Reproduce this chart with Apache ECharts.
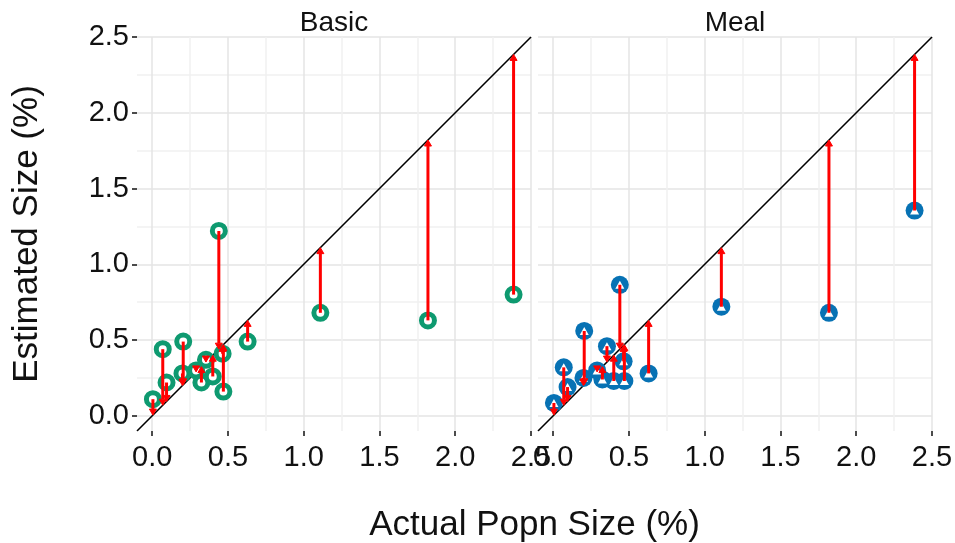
<!DOCTYPE html>
<html>
<head>
<meta charset="utf-8">
<script src="https://cdn.jsdelivr.net/npm/echarts@6/dist/echarts.min.js"></script>
<style>
  html, body { margin: 0; padding: 0; background: #ffffff; }
  #chart { width: 955px; height: 543px; }
</style>
</head>
<body>
<div id="chart"></div>
<script>
// Actual population size (%) of each group, shared by both panels
const actualSize = [0.005, 0.07, 0.095, 0.20, 0.205, 0.29, 0.325, 0.355, 0.40, 0.44, 0.465, 0.47, 0.63, 1.11, 1.82, 2.385];
// Estimated size (%) from the Basic method
const basicEstimate = [0.11, 0.44, 0.22, 0.28, 0.49, 0.30, 0.22, 0.37, 0.26, 1.22, 0.41, 0.16, 0.49, 0.68, 0.63, 0.80];
// Estimated size (%) from the Meal method
const mealEstimate = [0.085, 0.32, 0.19, 0.25, 0.56, 0.30, 0.24, 0.46, 0.23, 0.865, 0.36, 0.23, 0.28, 0.72, 0.68, 1.355];

const panelNames = ['Basic', 'Meal'];
const tickValues = [0, 0.5, 1.0, 1.5, 2.0, 2.5];
const axisMin = -0.1;
const axisMax = 2.5;
const gridStep = 0.05;
const identityLine = [[axisMin, axisMin], [axisMax, axisMax]];

const FONT = '"Liberation Sans", Arial, Helvetica, sans-serif';
const TEXT = '#111111';
const GREEN = '#0e9a70';
const BLUE = '#0772b4';
const RED = '#ff0000';
const MAJOR = '#e4e4e4';
const MINOR = '#f1f1f1';

// split lines every gridStep; colour only the 0.5 (major) and 0.25 (minor) positions
const gridColors = [];
for (let i = 0; i < 10; i++) {
  const v = Math.round((axisMin + i * gridStep) * 1000);
  gridColors.push(v % 500 === 0 ? MAJOR : (v % 250 === 0 ? MINOR : 'rgba(0,0,0,0)'));
}

const basicPoints = actualSize.map((x, i) => [x, basicEstimate[i]]);
const mealPoints = actualSize.map((x, i) => [x, mealEstimate[i]]);

// arrow from the estimate to the identity line at the actual size
function arrowItem(params, api) {
  const x = api.value(0);
  const est = api.value(1);
  const from = api.coord([x, est]);
  const to = api.coord([x, x]);
  const dy = to[1] - from[1];
  const dir = dy >= 0 ? 1 : -1;
  const headLen = 6;
  const headHalf = 3.5;
  const baseY = to[1] - dir * headLen;
  const children = [];
  if (Math.abs(dy) > headLen) {
    children.push({
      type: 'line',
      shape: { x1: from[0], y1: from[1], x2: to[0], y2: baseY },
      style: { stroke: RED, lineWidth: 3 }
    });
  }
  children.push({
    type: 'polygon',
    shape: { points: [[to[0], to[1]], [to[0] - headHalf, baseY], [to[0] + headHalf, baseY]] },
    style: { fill: RED, stroke: RED, lineWidth: 1 }
  });
  return { type: 'group', children };
}

const gridBox = [
  { left: 137, top: 37, width: 394, height: 394 },
  { left: 538, top: 37, width: 394, height: 394 }
];

function dataAxis(gridIndex, position) {
  return {
    type: 'value', gridIndex, position, min: axisMin, max: axisMax, interval: gridStep,
    axisLine: { show: false, onZero: false },
    axisTick: { show: false },
    axisLabel: { show: false },
    splitLine: { show: true, lineStyle: { color: gridColors, width: 1.5 } }
  };
}

function scaleAxis(gridIndex, position, extra) {
  return Object.assign({
    type: 'value', gridIndex, position, min: axisMin, max: axisMax,
    axisLine: { show: false, onZero: false },
    axisTick: { show: true, customValues: tickValues, length: 5, lineStyle: { color: TEXT, width: 1.5 } },
    axisLabel: {
      show: true, customValues: tickValues, formatter: v => v.toFixed(1),
      fontFamily: FONT, fontSize: 29, color: TEXT, margin: position === 'bottom' ? 12 : 8
    },
    splitLine: { show: false }
  }, extra || {});
}

const chart = echarts.init(document.getElementById('chart'), null, { renderer: 'canvas' });

chart.setOption({
  animation: false,
  backgroundColor: '#ffffff',
  textStyle: { fontFamily: FONT },
  title: [
    { text: panelNames[0], left: gridBox[0].left + gridBox[0].width / 2, top: 9, textAlign: 'center', padding: 0,
      textStyle: { fontFamily: FONT, fontSize: 28, fontWeight: 'normal', color: TEXT } },
    { text: panelNames[1], left: gridBox[1].left + gridBox[1].width / 2, top: 9, textAlign: 'center', padding: 0,
      textStyle: { fontFamily: FONT, fontSize: 28, fontWeight: 'normal', color: TEXT } },
    { text: 'Actual Popn Size (%)', left: (gridBox[0].left + gridBox[1].left + gridBox[1].width) / 2, top: 508,
      textAlign: 'center', padding: 0,
      textStyle: { fontFamily: FONT, fontSize: 35, fontWeight: 'normal', color: TEXT } }
  ],
  grid: gridBox.map(g => Object.assign({ containLabel: false, outerBoundsMode: 'none' }, g)),
  xAxis: [
    dataAxis(0, 'bottom'),
    scaleAxis(0, 'bottom'),
    dataAxis(1, 'bottom'),
    scaleAxis(1, 'bottom')
  ],
  yAxis: [
    dataAxis(0, 'left'),
    scaleAxis(0, 'left', {
      name: 'Estimated Size (%)', nameLocation: 'middle', nameRotate: 90, nameGap: 92,
      nameTextStyle: { fontFamily: FONT, fontSize: 35, color: TEXT }
    }),
    dataAxis(1, 'left')
  ],
  series: [
    // identity line y = x
    { type: 'line', xAxisIndex: 0, yAxisIndex: 0, data: identityLine, symbol: 'none', silent: true,
      lineStyle: { color: '#000000', width: 1.6 }, z: 2 },
    { type: 'line', xAxisIndex: 2, yAxisIndex: 2, data: identityLine, symbol: 'none', silent: true,
      lineStyle: { color: '#000000', width: 1.6 }, z: 2 },
    // Basic estimates
    { type: 'scatter', xAxisIndex: 0, yAxisIndex: 0, data: basicPoints, symbol: 'circle', symbolSize: 13,
      itemStyle: { color: '#ffffff', borderColor: GREEN, borderWidth: 5, opacity: 1 }, z: 3, silent: true },
    // Meal estimates: blue disc with white triangle
    { type: 'scatter', xAxisIndex: 2, yAxisIndex: 2, data: mealPoints, symbol: 'circle', symbolSize: 18,
      itemStyle: { color: BLUE, opacity: 1 }, z: 3, silent: true },
    { type: 'scatter', xAxisIndex: 2, yAxisIndex: 2, data: mealPoints, symbol: 'triangle', symbolSize: [9, 8],
      itemStyle: { color: '#ffffff', opacity: 1 }, z: 4, silent: true },
    // arrows from estimate to actual
    { type: 'custom', xAxisIndex: 0, yAxisIndex: 0, data: basicPoints, renderItem: arrowItem,
      encode: { x: 0, y: 1 }, z: 5, silent: true },
    { type: 'custom', xAxisIndex: 2, yAxisIndex: 2, data: mealPoints, renderItem: arrowItem,
      encode: { x: 0, y: 1 }, z: 5, silent: true }
  ]
});
</script>
</body>
</html>
